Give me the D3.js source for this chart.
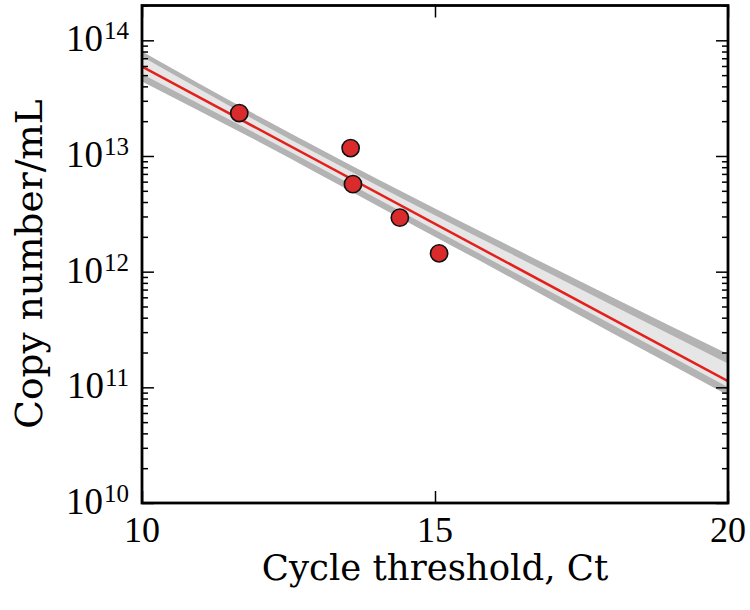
<!DOCTYPE html>
<html><head><meta charset="utf-8">
<script src="https://cdn.jsdelivr.net/npm/d3@7"></script>
<style>
html,body{margin:0;padding:0;background:#fff;}
svg{display:block;}
</style></head>
<body>
<svg id="chart" width="750" height="610"></svg>
<script>
// ---- data ----
const pointCt = [11.66, 13.56, 13.60, 14.40, 15.07];
const pointCopies = [2.35e13, 1.17e13, 5.71e12, 2.93e12, 1.44e12];

const lineCt = [10, 20];
const lineCopies = [5.94e13, 1.13e11];

const bandCt = [10, 12, 14, 16, 18, 20];
const outerUpper = [8.02e13, 2.19e13, 6.38e12, 1.95e12, 6.11e11, 1.94e11];
const outerLower = [4.41e13, 1.32e13, 3.76e12, 1.07e12, 2.99e11, 8.55e10];
const innerUpper = [7.23e13, 1.95e13, 5.62e12, 1.70e12, 5.20e11, 1.61e11];
const innerLower = [5.12e13, 1.51e13, 4.32e12, 1.23e12, 3.52e11, 1.00e11];

const xTicks = [10, 15, 20];
const yMajor = [1e10, 1e11, 1e12, 1e13, 1e14];
const yExponents = ["10", "11", "12", "13", "14"];
const xDomain = [10, 20];
const yDomain = [1e10, 2e14];

const xTitle = "Cycle threshold, Ct";
const yTitle = "Copy number/mL";

// ---- layout ----
const L = 142, R = 728, T = 5.5, B = 503;
const svg = d3.select("#chart");
const x = d3.scaleLinear().domain(xDomain).range([L, R]);
const y = d3.scaleLog().domain(yDomain).range([B, T]);

const serif = "'Liberation Serif', 'Times New Roman', serif";
const titleFont = "'DejaVu Serif', serif";

svg.append("defs").append("clipPath").attr("id", "clip")
  .append("rect").attr("x", L).attr("y", T).attr("width", R - L).attr("height", B - T);

const g = svg.append("g").attr("clip-path", "url(#clip)");

const idx = d3.range(bandCt.length);
const area = (up, lo) => d3.area()
  .x(i => x(bandCt[i])).y0(i => y(lo[i])).y1(i => y(up[i]))
  .curve(d3.curveMonotoneX)(idx);

g.append("path").attr("d", area(outerUpper, outerLower)).attr("fill", "#b3b3b3");
g.append("path").attr("d", area(innerUpper, innerLower)).attr("fill", "#e6e6e6");

g.append("path")
  .attr("d", d3.line().x(i => x(lineCt[i])).y(i => y(lineCopies[i]))(d3.range(lineCt.length)))
  .attr("stroke", "#e3201b").attr("stroke-width", 2.5).attr("fill", "none");

g.selectAll("circle.pt").data(d3.range(pointCt.length)).join("circle")
  .attr("class", "pt")
  .attr("cx", i => x(pointCt[i])).attr("cy", i => y(pointCopies[i]))
  .attr("r", 8.6).attr("fill", "#d92b2b").attr("stroke", "#111").attr("stroke-width", 1.6);

// ---- axes (ticks inside) ----
const minor = y.ticks().filter(v => !yMajor.some(m => Math.abs(m - v) / m < 1e-9));
function styleAxis(sel) {
  sel.select(".domain").remove();
  sel.selectAll("text").remove();
  sel.selectAll("line").attr("stroke", "#000").attr("stroke-width", 1.5);
}
svg.append("g").attr("transform", `translate(${L},0)`)
  .call(d3.axisLeft(y).tickValues(yMajor).tickSize(-12)).call(styleAxis);
svg.append("g").attr("transform", `translate(${L},0)`)
  .call(d3.axisLeft(y).tickValues(minor).tickSize(-6)).call(styleAxis);
svg.append("g").attr("transform", `translate(${R},0)`)
  .call(d3.axisRight(y).tickValues(yMajor).tickSize(-12)).call(styleAxis);
svg.append("g").attr("transform", `translate(${R},0)`)
  .call(d3.axisRight(y).tickValues(minor).tickSize(-6)).call(styleAxis);
svg.append("g").attr("transform", `translate(0,${B})`)
  .call(d3.axisBottom(x).tickValues(xTicks).tickSize(-12)).call(styleAxis);
svg.append("g").attr("transform", `translate(0,${T})`)
  .call(d3.axisTop(x).tickValues(xTicks).tickSize(-12)).call(styleAxis);

// frame
svg.append("rect").attr("x", L).attr("y", T).attr("width", R - L).attr("height", B - T)
  .attr("fill", "none").attr("stroke", "#000").attr("stroke-width", 2.8);

// x tick labels
svg.selectAll("text.xt").data(xTicks).join("text").attr("class", "xt")
  .attr("x", d => x(d)).attr("y", 542)
  .attr("text-anchor", "middle").attr("font-family", serif).attr("font-size", 36)
  .text(d => d);

// y tick labels 10^n
yMajor.forEach((v, i) => {
  const t = svg.append("text")
    .attr("x", 129).attr("y", y(v) + 11)
    .attr("text-anchor", "end").attr("font-family", serif).attr("font-size", 37);
  t.append("tspan").text("10");
  t.append("tspan").attr("font-size", 25).attr("dy", -12).attr("dx", 1).text(yExponents[i]);
});

// axis titles
svg.append("text").attr("x", 435).attr("y", 580)
  .attr("text-anchor", "middle").attr("font-family", titleFont).attr("font-size", 35.5)
  .attr("font-weight", 300)
  .text(xTitle);
svg.append("text").attr("transform", "translate(42,264) rotate(-90)")
  .attr("text-anchor", "middle").attr("font-family", titleFont).attr("font-size", 37.5)
  .attr("font-weight", 300)
  .text(yTitle);
</script>
</body></html>
